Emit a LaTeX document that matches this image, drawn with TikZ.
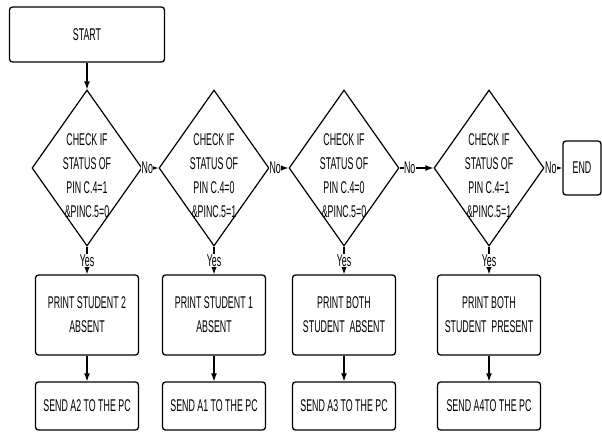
\documentclass[tikz,border=0pt]{standalone}
\usepackage{fontspec}
\setmainfont[FakeStretch=0.52]{Liberation Sans}
\usetikzlibrary{shapes.geometric,arrows.meta}

\begin{document}
\begin{tikzpicture}[x=1pt,y=-1pt,
        every node/.style={font=\fontsize{17}{24}\selectfont},
        box/.style={draw,line width=1.3pt,rounded corners=3pt,align=center,inner sep=0pt},
        decision/.style={draw,diamond,line width=1.2pt,minimum width=110pt,minimum height=156pt,inner sep=0pt},
        flow/.style={line width=1.2pt,-{Latex[length=8pt,width=6pt]}},
        lbl/.style={fill=white,inner sep=0.5pt}]
        \def\dy{168}
        \def\boxw{103}
        \useasboundingbox (0,0) rectangle (602,432);

        \node[box,minimum width=155pt,minimum height=55pt] (start) at (87,34.5) {START};
        \node[box,minimum width=38pt,minimum height=54pt] (end) at (582,\dy) {END};

        \foreach \i/\xc/\pa/\pb/\pr/\se in {1/87/{PIN C.4=1}/{\&PINC.5=0}/{PRINT STUDENT 2\\ABSENT}/{SEND A2 TO THE PC},
                2/214/{PIN C.4=0}/{\&PINC.5=1}/{PRINT STUDENT 1\\ABSENT}/{SEND A1 TO THE PC},
                3/344/{PIN C.4=0}/{\&PINC.5=0}/{PRINT BOTH\\STUDENT\ \ ABSENT}/{SEND A3 TO THE PC},
                4/489/{PIN C.4=1}/{\&PINC.5=1}/{PRINT BOTH\\STUDENT\ \ PRESENT}/{SEND A4TO THE PC}} {
                \node[decision] (d\i) at (\xc,\dy) {};
                \node[align=center] (q\i) at (\xc,176) {CHECK IF\\STATUS OF\\\pa\\\pb};
                \node[box,minimum width=\boxw pt,minimum height=80pt] (p\i) at (\xc,315) {\pr};
                \node[box,minimum width=\boxw pt,minimum height=48pt] (s\i) at (\xc,406) {\se};
                \draw[flow] (d\i) -- node[lbl] {Yes} (p\i);
                \draw[flow] (p\i) -- (s\i);
            }

        \draw[flow] (start) -- (d1);
        \foreach \i in {1,2,3} {
                \pgfmathtruncatemacro\j{\i+1}
                \draw[flow] (d\i) -- node[lbl,pos=0.3] {No} (d\j);
            }
        \draw[flow] (d4) -- node[lbl,pos=0.35] {No} (end);

    \end{tikzpicture}
\end{document}
